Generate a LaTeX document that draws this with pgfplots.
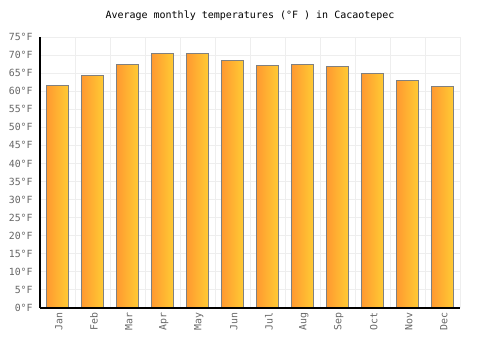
\documentclass[border=0pt]{standalone}
\usepackage{pgfplots}
\pgfplotsset{compat=1.18}
\usepackage{fontspec}
\setmainfont{DejaVu Sans Mono}
\definecolor{barL}{RGB}{255,152,48}
\definecolor{barR}{RGB}{255,204,52}
\definecolor{barE}{RGB}{128,128,128}
\definecolor{gridc}{RGB}{238,238,238}
\definecolor{tickc}{RGB}{102,102,102}
\pgfplotsset{mybar/.style={ybar, bar width=0.65, bar shift=0pt, left color=barL, right color=barR, draw=barE, line width=0.75pt}}
\begin{document}
\begin{tikzpicture}
\path[use as bounding box] (-30pt,-31.5pt) rectangle (345pt,231pt);
\begin{axis}[
  at={(0,0)}, anchor=south west,
  scale only axis, width=315pt, height=203.25pt,
  xmin=-0.5, xmax=11.5, ymin=0, ymax=75,
  axis x line*=bottom, axis y line*=left,
  axis line style={black, line width=0.9pt, -},
  xtick={0,...,11},
  xticklabels={Jan,Feb,Mar,Apr,May,Jun,Jul,Aug,Sep,Oct,Nov,Dec},
  minor xtick={-0.5,0.5,...,11.5},
  xminorgrids, ymajorgrids,
  minor grid style={gridc, line width=0.75pt},
  major grid style={gridc, line width=0.75pt},
  ytick={0,5,...,75},
  yticklabels={0°F,5°F,10°F,15°F,20°F,25°F,30°F,35°F,40°F,45°F,50°F,55°F,60°F,65°F,70°F,75°F},
  major tick length=0pt, minor tick length=0pt,
  tick label style={font=\fontsize{7.4}{8}\selectfont, text=tickc},
  yticklabel style={xshift=-2pt},
  xticklabel style={rotate=90, anchor=east, yshift=-1pt},
  title={Average monthly temperatures (°F ) in Cacaotepec},
  title style={font=\fontsize{7.5}{8}\selectfont, yshift=3pt},
]
\addplot[mybar] coordinates {(0,61.7)};
\addplot[mybar] coordinates {(1,64.4)};
\addplot[mybar] coordinates {(2,67.5)};
\addplot[mybar] coordinates {(3,70.3)};
\addplot[mybar] coordinates {(4,70.3)};
\addplot[mybar] coordinates {(5,68.6)};
\addplot[mybar] coordinates {(6,67.0)};
\addplot[mybar] coordinates {(7,67.3)};
\addplot[mybar] coordinates {(8,66.7)};
\addplot[mybar] coordinates {(9,64.8)};
\addplot[mybar] coordinates {(10,63.1)};
\addplot[mybar] coordinates {(11,61.4)};
\draw[black, line width=0.9pt] (axis cs:-0.5,0) -- (axis cs:11.5,0);
\end{axis}
\end{tikzpicture}
\end{document}
